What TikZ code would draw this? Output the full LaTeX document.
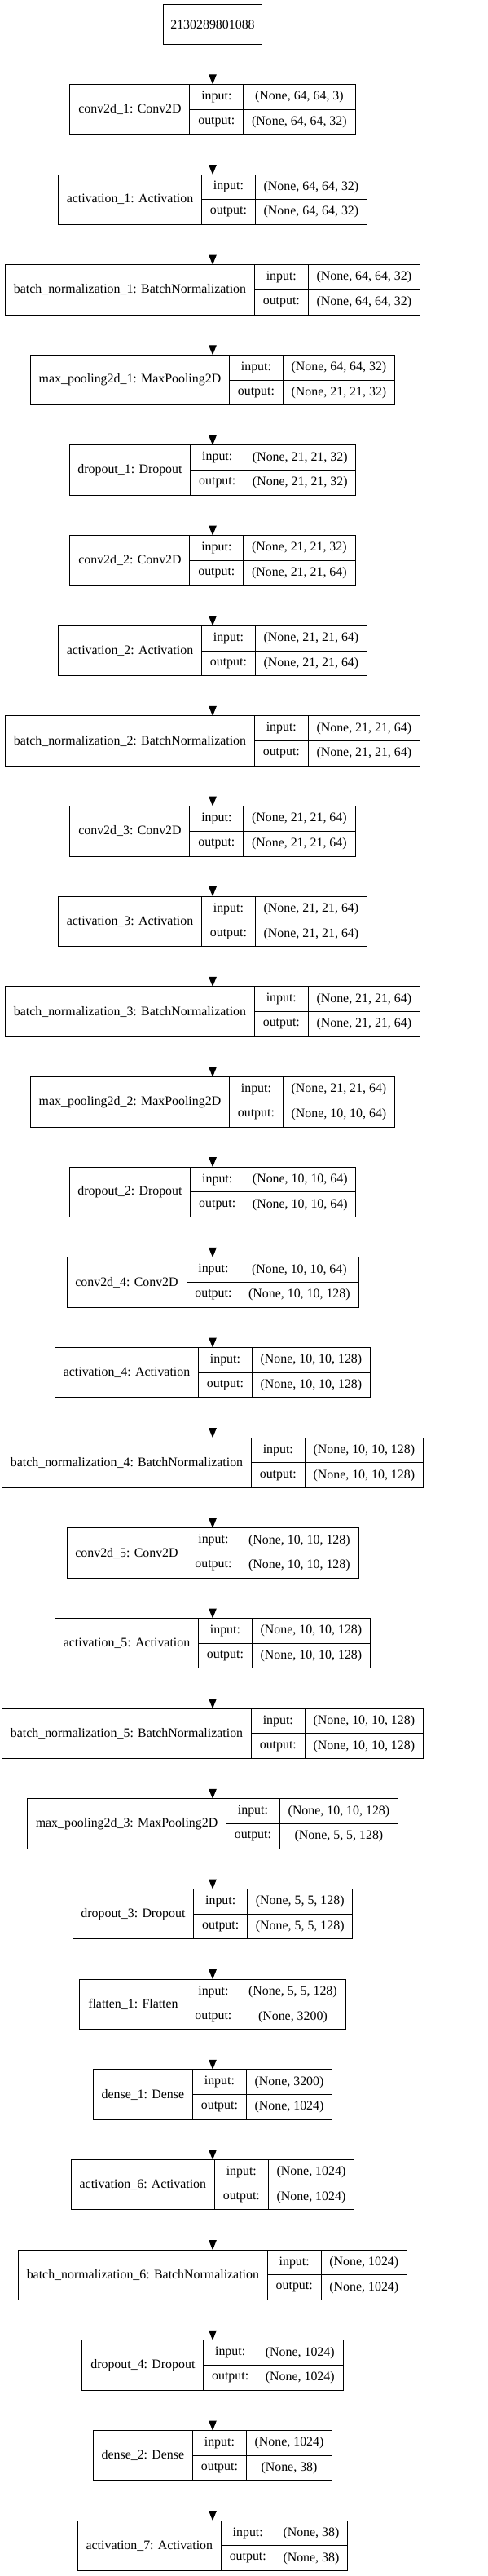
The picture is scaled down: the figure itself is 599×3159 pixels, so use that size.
\documentclass[tikz,border=0pt]{standalone}
\usepackage{fontspec}
\setmainfont{Liberation Serif}
\usetikzlibrary{arrows.meta}

\newlength\namew
\newlength\iow
\newlength\shapew
\newlength\tmpw
% text width, measured outside the picture font
\newcommand\txtw[2]{\settowidth#1{\pgfinterruptpicture\normalfont #2\endpgfinterruptpicture}}
% one layer record: name, y, label, input shape, output shape
\newcommand\layer[5]{%
  \txtw\namew{#3}\addtolength\namew{20.7pt}%
  \txtw\iow{output:}\addtolength\iow{20.7pt}%
  \txtw\shapew{#4}\txtw\tmpw{#5}%
  \ifdim\tmpw>\shapew\shapew=\tmpw\fi\addtolength\shapew{20.7pt}%
  \node [record, minimum width=\namew+\iow+\shapew] (#1) at (261,#2) {};
  \node [cell, minimum width=\namew, minimum height=61.4pt, anchor=north west] (#1-name) at (#1.north west) {#3};
  \node [cell, minimum width=\iow, anchor=north west] (#1-inl) at (#1-name.north east) {input:};
  \node [cell, minimum width=\iow, anchor=north west] (#1-outl) at (#1-inl.south west) {output:};
  \node [cell, minimum width=\shapew, anchor=north west] (#1-in) at (#1-inl.north east) {#4};
  \node [cell, minimum width=\shapew, anchor=north west] (#1-out) at (#1-in.south west) {#5};
}

\tikzset{
  record/.style={draw, line width=1pt, outer sep=0pt, inner sep=0pt, minimum height=61.4pt},
  cell/.style={draw, line width=1pt, outer sep=0pt, inner sep=0pt, minimum height=30.7pt},
  inbox/.style={draw, line width=1pt, outer sep=0pt, inner sep=0pt, minimum width=121.7pt, minimum height=48.3pt},
  arr/.style={-{Triangle[length=12pt, width=9.5pt]}, line width=1pt}
}

\begin{document}
\fontsize{15.9pt}{19pt}\selectfont
\begin{tikzpicture}[x=1pt, y=-1pt]
    \useasboundingbox (0,0) rectangle (599,3159);
    % Input
    \node [inbox] (input) at (261,29.85) {2130289801088};
    % Layers
    \layer{conv1}{134.0}{conv2d\_1: Conv2D}{(None, 64, 64, 3)}{(None, 64, 64, 32)}
    \layer{act1}{244.7}{activation\_1: Activation}{(None, 64, 64, 32)}{(None, 64, 64, 32)}
    \layer{bn1}{355.3}{batch\_normalization\_1: BatchNormalization}{(None, 64, 64, 32)}{(None, 64, 64, 32)}
    \layer{pool1}{466.0}{max\_pooling2d\_1: MaxPooling2D}{(None, 64, 64, 32)}{(None, 21, 21, 32)}
    \layer{drop1}{576.6}{dropout\_1: Dropout}{(None, 21, 21, 32)}{(None, 21, 21, 32)}
    \layer{conv2}{687.3}{conv2d\_2: Conv2D}{(None, 21, 21, 32)}{(None, 21, 21, 64)}
    \layer{act2}{798.0}{activation\_2: Activation}{(None, 21, 21, 64)}{(None, 21, 21, 64)}
    \layer{bn2}{908.6}{batch\_normalization\_2: BatchNormalization}{(None, 21, 21, 64)}{(None, 21, 21, 64)}
    \layer{conv3}{1019.3}{conv2d\_3: Conv2D}{(None, 21, 21, 64)}{(None, 21, 21, 64)}
    \layer{act3}{1129.9}{activation\_3: Activation}{(None, 21, 21, 64)}{(None, 21, 21, 64)}
    \layer{bn3}{1240.6}{batch\_normalization\_3: BatchNormalization}{(None, 21, 21, 64)}{(None, 21, 21, 64)}
    \layer{pool2}{1351.3}{max\_pooling2d\_2: MaxPooling2D}{(None, 21, 21, 64)}{(None, 10, 10, 64)}
    \layer{drop2}{1461.9}{dropout\_2: Dropout}{(None, 10, 10, 64)}{(None, 10, 10, 64)}
    \layer{conv4}{1572.6}{conv2d\_4: Conv2D}{(None, 10, 10, 64)}{(None, 10, 10, 128)}
    \layer{act4}{1683.2}{activation\_4: Activation}{(None, 10, 10, 128)}{(None, 10, 10, 128)}
    \layer{bn4}{1793.9}{batch\_normalization\_4: BatchNormalization}{(None, 10, 10, 128)}{(None, 10, 10, 128)}
    \layer{conv5}{1904.6}{conv2d\_5: Conv2D}{(None, 10, 10, 128)}{(None, 10, 10, 128)}
    \layer{act5}{2015.2}{activation\_5: Activation}{(None, 10, 10, 128)}{(None, 10, 10, 128)}
    \layer{bn5}{2125.9}{batch\_normalization\_5: BatchNormalization}{(None, 10, 10, 128)}{(None, 10, 10, 128)}
    \layer{pool3}{2236.5}{max\_pooling2d\_3: MaxPooling2D}{(None, 10, 10, 128)}{(None, 5, 5, 128)}
    \layer{drop3}{2347.2}{dropout\_3: Dropout}{(None, 5, 5, 128)}{(None, 5, 5, 128)}
    \layer{flat1}{2457.9}{flatten\_1: Flatten}{(None, 5, 5, 128)}{(None, 3200)}
    \layer{dense1}{2568.5}{dense\_1: Dense}{(None, 3200)}{(None, 1024)}
    \layer{act6}{2679.2}{activation\_6: Activation}{(None, 1024)}{(None, 1024)}
    \layer{bn6}{2789.8}{batch\_normalization\_6: BatchNormalization}{(None, 1024)}{(None, 1024)}
    \layer{drop4}{2900.5}{dropout\_4: Dropout}{(None, 1024)}{(None, 1024)}
    \layer{dense2}{3011.2}{dense\_2: Dense}{(None, 1024)}{(None, 38)}
    \layer{act7}{3121.8}{activation\_7: Activation}{(None, 38)}{(None, 38)}
    % Arrows
    \draw [arr] (input) -- (conv1);
    \draw [arr] (conv1) -- (act1);
    \draw [arr] (act1) -- (bn1);
    \draw [arr] (bn1) -- (pool1);
    \draw [arr] (pool1) -- (drop1);
    \draw [arr] (drop1) -- (conv2);
    \draw [arr] (conv2) -- (act2);
    \draw [arr] (act2) -- (bn2);
    \draw [arr] (bn2) -- (conv3);
    \draw [arr] (conv3) -- (act3);
    \draw [arr] (act3) -- (bn3);
    \draw [arr] (bn3) -- (pool2);
    \draw [arr] (pool2) -- (drop2);
    \draw [arr] (drop2) -- (conv4);
    \draw [arr] (conv4) -- (act4);
    \draw [arr] (act4) -- (bn4);
    \draw [arr] (bn4) -- (conv5);
    \draw [arr] (conv5) -- (act5);
    \draw [arr] (act5) -- (bn5);
    \draw [arr] (bn5) -- (pool3);
    \draw [arr] (pool3) -- (drop3);
    \draw [arr] (drop3) -- (flat1);
    \draw [arr] (flat1) -- (dense1);
    \draw [arr] (dense1) -- (act6);
    \draw [arr] (act6) -- (bn6);
    \draw [arr] (bn6) -- (drop4);
    \draw [arr] (drop4) -- (dense2);
    \draw [arr] (dense2) -- (act7);
\end{tikzpicture}
\end{document}
